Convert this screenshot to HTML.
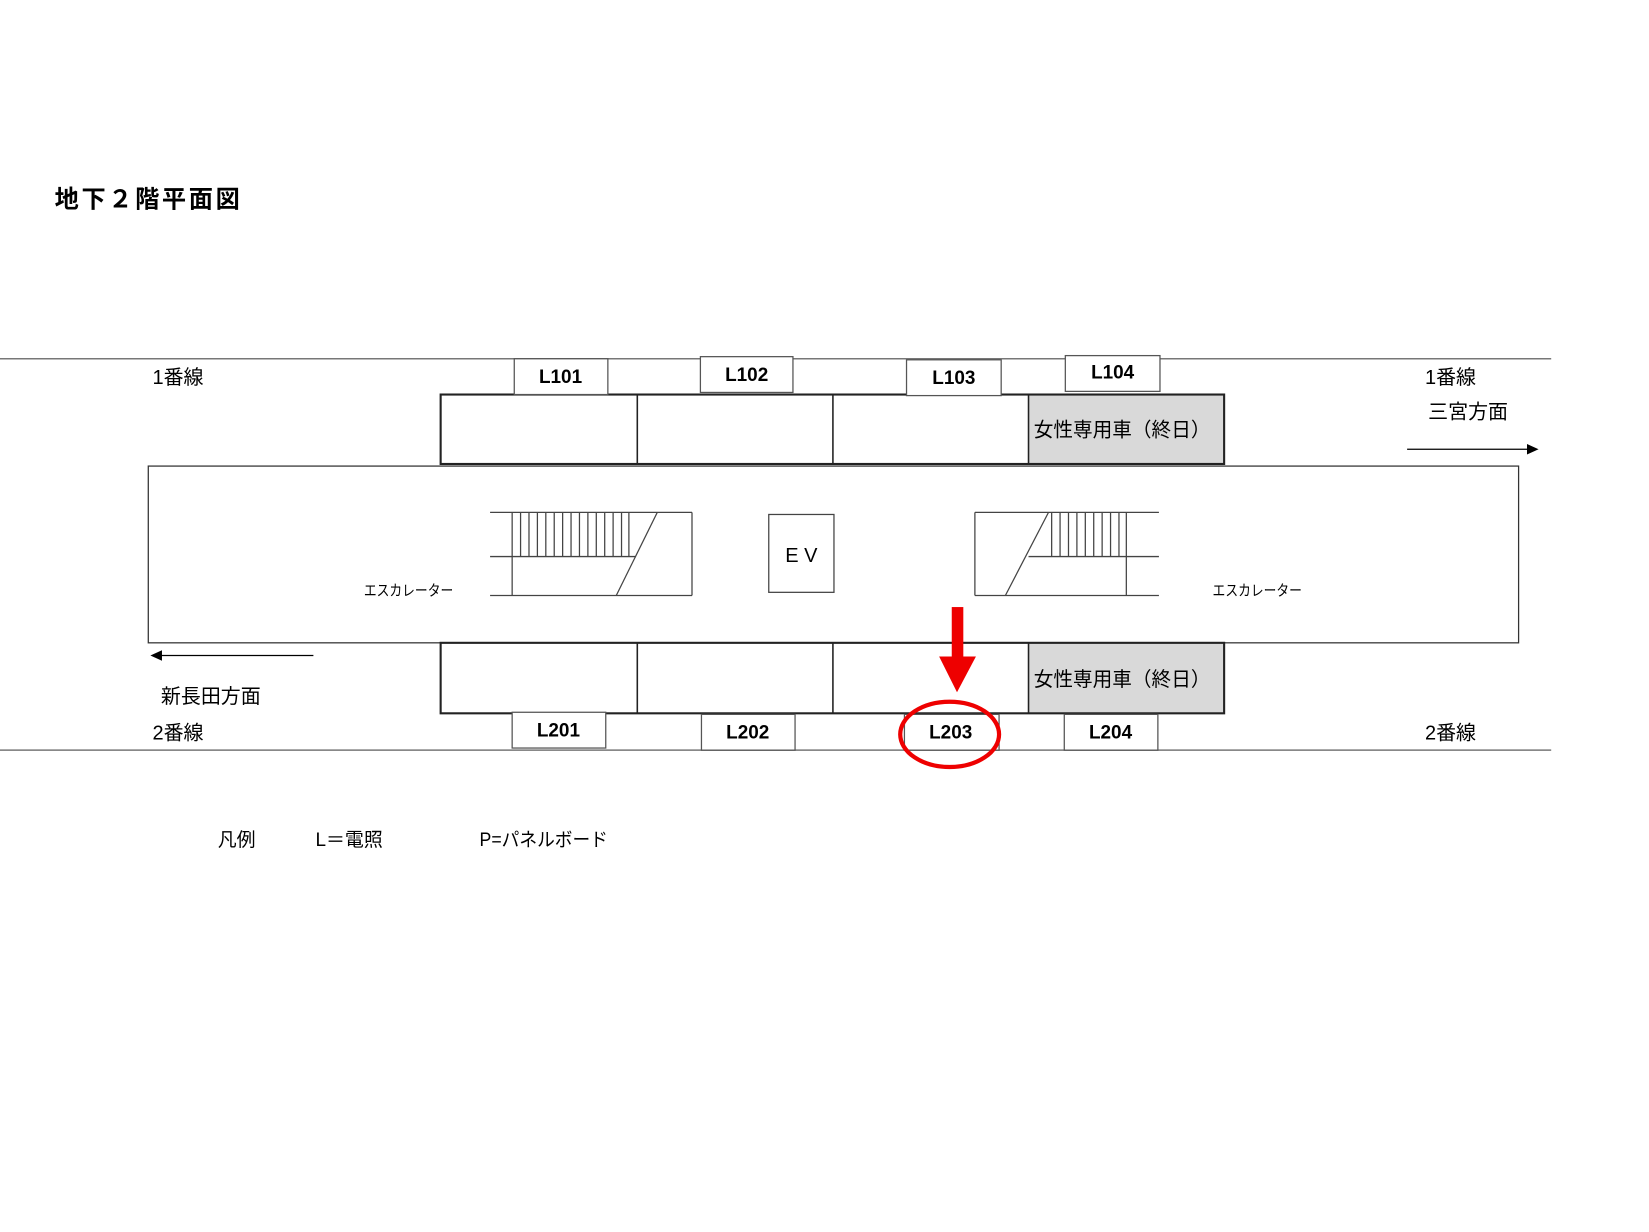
<!DOCTYPE html>
<html><head><meta charset="utf-8"><style>
html,body{margin:0;padding:0;background:#fff;}
svg{display:block;}
text{font-family:"Liberation Sans","Noto Sans CJK JP",sans-serif;fill:#000;}
</style></head><body>
<svg width="1649" height="1232" viewBox="0 0 1568 1171" preserveAspectRatio="none" xmlns="http://www.w3.org/2000/svg">
<rect width="1568" height="1171" fill="#fff"/>
<text x="52" y="197" font-size="23" font-weight="bold" textLength="176" lengthAdjust="spacing">地下２階平面図</text>
<line x1="0" y1="341" x2="1475" y2="341" stroke="#777" stroke-width="1.5"/>
<line x1="0" y1="713" x2="1475" y2="713" stroke="#777" stroke-width="1.5"/>
<rect x="141" y="443" width="1303" height="168" fill="none" stroke="#333" stroke-width="1.2"/>
<rect x="978" y="375" width="186" height="66" fill="#d9d9d9"/>
<rect x="419" y="375" width="745" height="66" fill="none" stroke="#222" stroke-width="2"/>
<line x1="606" y1="375" x2="606" y2="441" stroke="#222" stroke-width="1.5"/>
<line x1="792" y1="375" x2="792" y2="441" stroke="#222" stroke-width="1.5"/>
<line x1="978" y1="375" x2="978" y2="441" stroke="#222" stroke-width="1.5"/>
<text x="983" y="415" font-size="19" textLength="168" lengthAdjust="spacingAndGlyphs">女性専用車（終日）</text>
<rect x="978" y="611" width="186" height="67" fill="#d9d9d9"/>
<rect x="419" y="611" width="745" height="67" fill="none" stroke="#222" stroke-width="2"/>
<line x1="606" y1="611" x2="606" y2="678" stroke="#222" stroke-width="1.5"/>
<line x1="792" y1="611" x2="792" y2="678" stroke="#222" stroke-width="1.5"/>
<line x1="978" y1="611" x2="978" y2="678" stroke="#222" stroke-width="1.5"/>
<text x="983" y="652" font-size="19" textLength="168" lengthAdjust="spacingAndGlyphs">女性専用車（終日）</text>
<g fill="#fff" stroke="#555" stroke-width="1.2">
<rect x="489" y="341" width="89" height="34"/>
<rect x="666" y="339" width="88" height="34"/>
<rect x="862" y="342" width="90" height="34"/>
<rect x="1013" y="338" width="90" height="34"/>
<rect x="487" y="677" width="89" height="34"/>
<rect x="667" y="679" width="89" height="34"/>
<rect x="860" y="679" width="90" height="34"/>
<rect x="1012" y="679" width="89" height="34"/>
</g>
<g font-size="18" text-anchor="middle" font-weight="bold">
<text x="533" y="364">L101</text>
<text x="710" y="362">L102</text>
<text x="907" y="365">L103</text>
<text x="1058" y="360">L104</text>
<text x="531" y="700">L201</text>
<text x="711" y="702">L202</text>
<text x="904" y="702">L203</text>
<text x="1056" y="702">L204</text>
</g>
<g stroke="#444" stroke-width="1.2" fill="none">
<line x1="466" y1="487" x2="658" y2="487"/>
<line x1="466" y1="529" x2="604" y2="529"/>
<line x1="466" y1="566" x2="658" y2="566"/>
<line x1="658" y1="487" x2="658" y2="566"/>
<line x1="487" y1="487" x2="487" y2="566"/>
<line x1="625" y1="487" x2="586" y2="566"/>
<path d="M495 487V529M503 487V529M511 487V529M519 487V529M527 487V529M535 487V529M543 487V529M551 487V529M559 487V529M567 487V529M575 487V529M583 487V529M591 487V529M598 487V529"/>
<line x1="927" y1="487" x2="1102" y2="487"/>
<line x1="978" y1="529" x2="1102" y2="529"/>
<line x1="927" y1="566" x2="1102" y2="566"/>
<line x1="927" y1="487" x2="927" y2="566"/>
<line x1="1071" y1="487" x2="1071" y2="566"/>
<line x1="997" y1="487" x2="956" y2="566"/>
<path d="M1000 487V529M1008 487V529M1016 487V529M1024 487V529M1032 487V529M1040 487V529M1048 487V529M1056 487V529M1064 487V529"/>
</g>
<rect x="731" y="489" width="62" height="74" fill="#fff" stroke="#444" stroke-width="1.2"/>
<text x="762" y="534" font-size="19" text-anchor="middle">E V</text>
<text x="346" y="566" font-size="14" textLength="85" lengthAdjust="spacingAndGlyphs">エスカレーター</text>
<text x="1153" y="566" font-size="14" textLength="85" lengthAdjust="spacingAndGlyphs">エスカレーター</text>
<line x1="1338" y1="427" x2="1454" y2="427" stroke="#000" stroke-width="1.2"/>
<polygon points="1452,422 1463,427 1452,432" fill="#000"/>
<line x1="152" y1="623" x2="298" y2="623" stroke="#000" stroke-width="1.2"/>
<polygon points="154,618 143,623 154,628" fill="#000"/>
<g font-size="19">
<text x="145" y="365">1番線</text>
<text x="1355" y="365">1番線</text>
<text x="1358" y="398">三宮方面</text>
<text x="153" y="668">新長田方面</text>
<text x="145" y="703">2番線</text>
<text x="1355" y="703">2番線</text>
</g>
<rect x="905" y="577" width="11" height="50" fill="#e00"/>
<polygon points="893,624 928,624 910,658" fill="#e00"/>
<ellipse cx="903" cy="698" rx="47" ry="31" fill="none" stroke="#e00" stroke-width="4"/>
<g font-size="18">
<text x="207" y="804">凡例</text>
<text x="300" y="804">L＝電照</text>
<text x="456" y="804" textLength="122" lengthAdjust="spacingAndGlyphs">P=パネルボード</text>
</g>
</svg>
</body></html>
